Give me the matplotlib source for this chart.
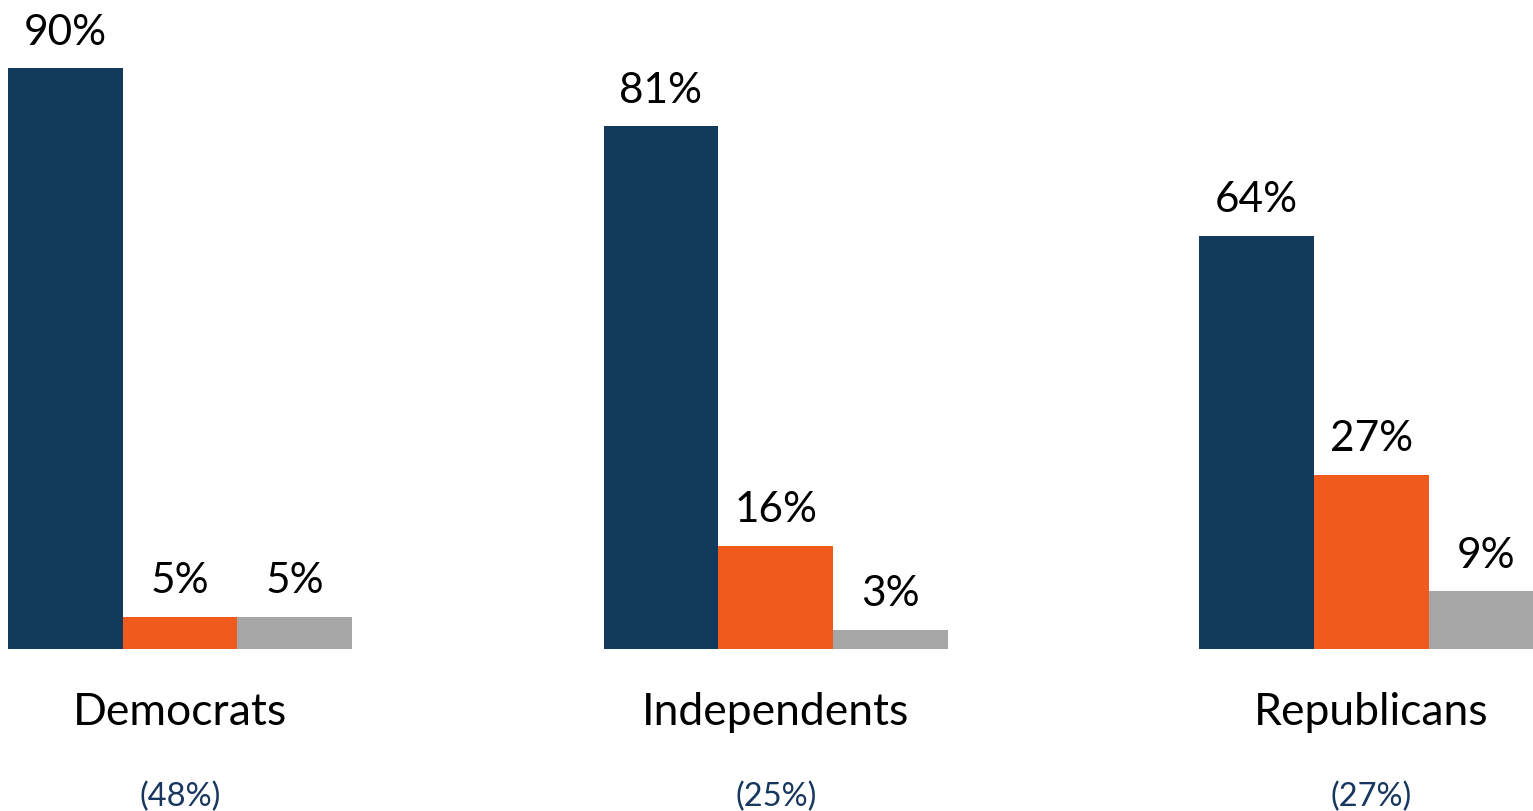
import matplotlib.pyplot as plt
import numpy as np

# chart data
groups = ["Democrats", "Independents", "Republicans"]
group_shares = ["(48%)", "(25%)", "(27%)"]
series_names = ["Yes", "No", "Unsure"]
series_values = [
    [90, 81, 64],
    [5, 16, 27],
    [5, 3, 9],
]
series_colors = ["#123A5D", "#F05A1C", "#A6A6A6"]


def run():
    plt.rcParams["font.family"] = ["Lato", "DejaVu Sans"]

    fig = plt.figure(figsize=(15.33, 8.11), dpi=100)
    ax = fig.add_axes([0, 0.19975, 1, 0.80025])

    x = np.arange(len(groups))
    width = 0.1927

    for i, (name, vals, col) in enumerate(zip(series_names, series_values, series_colors)):
        pos = x + (i - 1) * width
        ax.bar(pos, vals, width, color=col, label=name, clip_on=True)
        for px, v in zip(pos, vals):
            ax.text(px, v + 3.6, f"{v}%", ha="center", va="baseline",
                    fontsize=30.5, color="black")

    trans = ax.get_xaxis_transform()
    for xi, g, s in zip(x, groups, group_shares):
        ax.text(xi, -0.098, g, transform=trans, ha="center", va="center",
                fontsize=32, color="black", clip_on=False)
        ax.text(xi, -0.228, s, transform=trans, ha="center", va="center",
                fontsize=23.5, color="#17375E", clip_on=False)

    ax.set_xlim(-0.3022, 2.2713)
    ax.set_ylim(0, 100.5)
    ax.axis("off")

    fig.savefig("out.png", dpi=100)


if __name__ == "__main__":
    run()
